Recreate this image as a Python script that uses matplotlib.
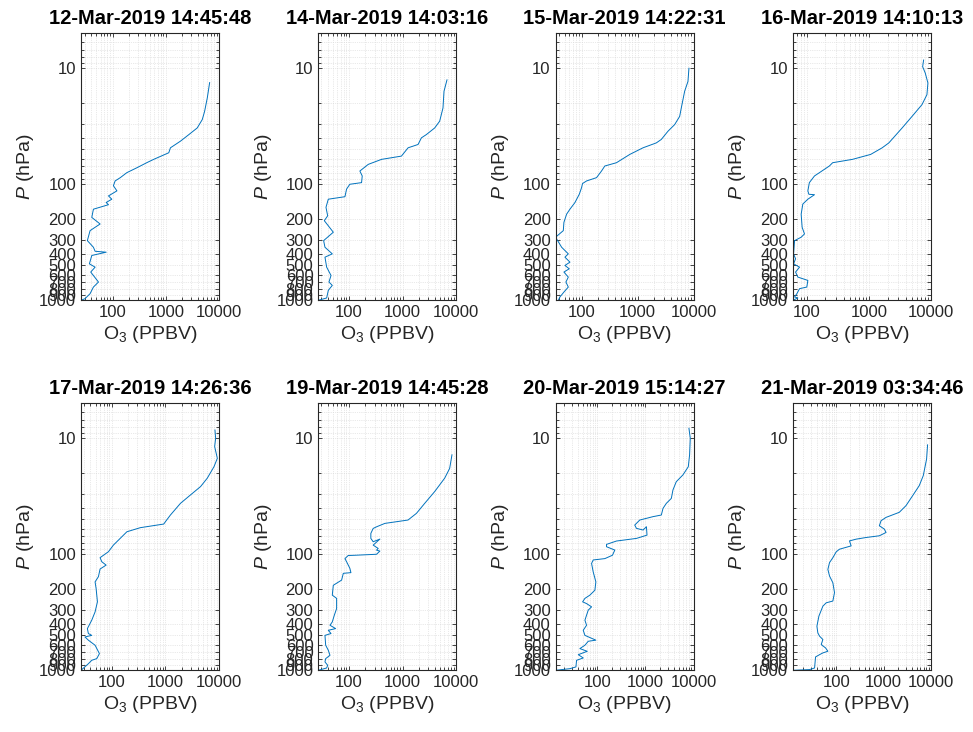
import matplotlib
matplotlib.use('Agg')
import matplotlib.pyplot as plt
from matplotlib.ticker import FixedLocator, FuncFormatter, LogLocator, NullFormatter

plt.rcParams['font.family'] = ['Liberation Sans', 'DejaVu Sans']
plt.rcParams['mathtext.fontset'] = 'custom'
plt.rcParams['mathtext.rm'] = 'Liberation Sans'
plt.rcParams['mathtext.it'] = 'Liberation Sans:italic'

# ozonesonde launch times
titles = ['12-Mar-2019 14:45:48', '14-Mar-2019 14:03:16', '15-Mar-2019 14:22:31',
          '16-Mar-2019 14:10:13', '17-Mar-2019 14:26:36', '19-Mar-2019 14:45:28',
          '20-Mar-2019 15:14:27', '21-Mar-2019 03:34:46']

# profiles: ozone (PPBV) vs pressure (hPa)
o3_1 = [6670, 6030, 5370, 4850, 3900, 2720, 1890, 1225, 1140, 594, 445, 288, 186, 140, 112, 104,
        121, 84, 97, 76, 84, 43.8, 40.8, 58.5, 37.9, 33.7, 43.8, 47.1, 76, 40.8, 36.8, 47.1, 39,
        54.5, 43.8, 37.9, 30.5, 25.6]
p_1 = [13.3, 18, 23.5, 27.7, 32.7, 37.3, 42.5, 48.5, 53.5, 61, 65, 72, 79.4, 87.7, 93.6, 103,
       114, 126, 134.5, 143.6, 150, 164, 193, 220, 251, 306, 349, 378, 385, 411, 485, 518, 571,
       696, 769, 877, 968, 1000]

o3_2 = [6710, 5900, 5650, 4900, 3960, 2770, 2240, 1940, 1265, 950, 405, 229, 160, 177, 172, 104,
        90.5, 84.3, 41.3, 37.4, 40.2, 34.8, 51.2, 33.8, 35.8, 49, 35.8, 38.5, 46.4, 42.5, 49,
        41.3, 38.5, 26.9]
p_2 = [12.6, 15.8, 22, 28.6, 32.7, 37.3, 39.8, 45.4, 48.5, 57.2, 61, 67.4, 76.9, 84.8, 96.8, 100,
       110, 128, 134.5, 158, 187, 206, 259, 306, 349, 398, 425, 518, 611, 696, 744, 821, 955, 1000]

o3_3 = [8260, 7930, 6920, 6030, 5640, 4590, 3490, 2650, 2160, 1250, 726, 420, 260, 227, 185, 123,
        104, 100, 91, 76, 62, 54.1, 48.4, 47.2, 34.4, 44.1, 58, 50.5, 62, 50.5, 60.3, 48.4, 58,
        52.6, 58, 48.4, 41.1, 38.5]
p_3 = [10, 13, 15.8, 22, 26, 30.6, 34.9, 41.1, 44, 48.5, 55.3, 65.2, 69.6, 76.9, 87.7, 93.6, 98.6,
       107, 122, 144, 164, 181, 213, 251, 286, 349, 398, 425, 469, 501, 535, 571, 631, 696, 769,
       849, 936, 1000]

o3_4 = [7630, 7360, 8110, 8950, 8630, 7180, 4970, 3440, 2100, 1640, 1070, 545, 261, 231, 160, 133,
        110, 104, 108, 133, 104, 86.3, 81.1, 84.1, 91.8, 81.1, 63.5, 61.2, 65.9, 61.2, 76.4, 65.9,
        71.8, 104, 100, 76.4, 69.2, 63.5, 71.8, 59.7]
p_4 = [8.5, 9.7, 11, 13.4, 16.9, 20.6, 26, 32.7, 44, 48.5, 55.3, 61, 65.2, 69.6, 79.4, 84.8, 96.8,
       114, 122, 123, 134.5, 148, 181, 235, 268, 286, 306, 398, 439, 485, 518, 571, 631, 674, 769,
       794, 877, 936, 955, 1000]

o3_5 = [8410, 8660, 8300, 9310, 8060, 6040, 4530, 2940, 1910, 1240, 1000, 931, 340, 191, 133, 107,
        86.6, 60.4, 65, 78.3, 60.4, 56.2, 48.7, 50.9, 53.9, 48.7, 42.2, 35, 36.5, 42.2, 31.6, 36.5,
        48.7, 58.7, 52.4, 42.2, 36.5, 26.6]
p_5 = [8.5, 10, 11.8, 14.9, 17.6, 22.1, 26.1, 30.8, 36.4, 45.9, 52.4, 54.9, 59, 64, 75.5, 83.4,
       95, 107, 116, 124, 134, 156, 173, 197, 257, 314, 370, 437, 482, 500, 516, 550, 608, 718,
       793, 820, 878, 1000]

o3_6 = [8310, 7520, 6070, 3960, 2580, 1810, 1260, 467, 327, 283, 256, 256, 283, 377, 283, 351, 327,
        377, 327, 129, 97, 84.3, 90.5, 104, 109, 78.6, 73.1, 51.2, 49, 59, 59, 53.5, 49, 44.4,
        56.5, 41.3, 46.4, 35.8, 36.9, 41.3, 44.4, 36.9, 35.8, 40.2, 38.5, 26.9]
p_6 = [13.9, 18.2, 22.1, 28.8, 36.4, 44.4, 50.7, 54.2, 58, 59.9, 66.1, 73, 78, 74, 83.4, 89.1, 92.1,
       93.9, 100, 102, 102.5, 109, 116, 132, 144, 146, 167, 185, 225, 240, 294, 335, 383, 409,
       437, 452, 482, 500, 608, 672, 743, 793, 847, 905, 955, 1000]

o3_7 = [8000, 8530, 8260, 7760, 6010, 4370, 3730, 3450, 2720, 2320, 2140, 1440, 764, 601, 652, 895,
        1050, 1080, 652, 251, 156, 156, 232, 207, 144, 82.6, 76.4, 82.6, 93.8, 89.5, 70.5, 55.6,
        49.8, 60.1, 76.4, 65.2, 60.1, 55.6, 60.1, 51.3, 55.6, 93.8, 65.2, 55.6, 43.7, 62.1, 40.5,
        51.3, 37.3, 36.2, 27.2, 13.7]
p_7 = [8.2, 10, 13.9, 17.6, 20.7, 23.7, 27.9, 33, 36.4, 40.2, 45.9, 47.4, 50.7, 56, 59.8, 61.8,
       57.9, 68.4, 73, 76.9, 82.2, 86.1, 92, 102, 109, 112, 120, 142, 173, 204, 225, 240, 257,
       266, 284, 303, 335, 370, 409, 452, 500, 550, 562, 608, 650, 686, 733, 783, 820, 935, 968,
       1000]

o3_8 = [8510, 8110, 6900, 5680, 4110, 2980, 2150, 1130, 886, 816, 1040, 1130, 816, 428, 264, 191,
        207, 117, 100, 85.1, 72.4, 66.8, 72.4, 85.1, 92.2, 85.1, 61.6, 52.4, 43.2, 39.2, 41, 44.6,
        52.4, 48.3, 59.6, 66.8, 52.4, 44.6, 36.7, 35, 27.5, 12.2]
p_8 = [11.4, 15.1, 21, 25.6, 31.3, 38.1, 43.5, 48.1, 51.4, 56.8, 60.7, 64.9, 69.3, 71.7, 74.1,
       76.7, 84.7, 90.5, 95.4, 107, 118, 135, 154, 176, 214, 253, 262, 280, 341, 417, 476, 508,
       543, 600, 641, 685, 708, 733, 767, 955, 986, 1000]

profiles = [(o3_1, p_1), (o3_2, p_2), (o3_3, p_3), (o3_4, p_4),
            (o3_5, p_5), (o3_6, p_6), (o3_7, p_7), (o3_8, p_8)]

y_ticks = [10, 100, 200, 300, 400, 500, 600, 700, 800, 900, 1000]
x_ticks = [10, 100, 1000, 10000]

W, H = 973, 732
fig = plt.figure(figsize=(W / 100, H / 100), dpi=100)

gray = '#262626'
fmt = FuncFormatter(lambda v, pos: '%g' % v)

for i, (o3, p) in enumerate(profiles):
    row, col = divmod(i, 4)
    left = 81 + col * 237.3
    top = 33.3 + row * 370
    ax = fig.add_axes([left / W, 1 - (top + 267) / H, 138 / W, 267 / H])
    ax.plot(o3, p, color='#0072BD', lw=0.7)
    ax.set_xscale('log')
    ax.set_yscale('log')
    ax.set_xlim(min(o3), 1e4)
    ax.set_ylim(1000, 5)
    ax.yaxis.set_major_locator(FixedLocator(y_ticks))
    ax.yaxis.set_major_formatter(fmt)
    ax.yaxis.set_minor_locator(LogLocator(base=10, subs=range(2, 10), numticks=20))
    ax.yaxis.set_minor_formatter(NullFormatter())
    ax.xaxis.set_major_locator(FixedLocator(x_ticks))
    ax.xaxis.set_major_formatter(fmt)
    ax.xaxis.set_minor_locator(LogLocator(base=10, subs=range(2, 10), numticks=20))
    ax.xaxis.set_minor_formatter(NullFormatter())
    ax.grid(True, which='both', ls=':', color='#d4d4d4', lw=0.5)
    ax.tick_params(which='both', direction='in', top=True, right=True, colors=gray,
                   labelsize=12, width=0.6)
    ax.tick_params(which='major', length=3)
    ax.tick_params(which='minor', length=2)
    for s in ax.spines.values():
        s.set_color(gray)
        s.set_linewidth(0.8)
    ax.set_xlabel(r'O$_3$ (PPBV)', fontsize=14, color=gray, labelpad=3)
    ax.set_ylabel(r'$P$ (hPa)', fontsize=14, color=gray, labelpad=2)
    ax.set_title(titles[i], fontsize=14.5, fontweight='bold', pad=7)

fig.savefig('out.png', dpi=100)
